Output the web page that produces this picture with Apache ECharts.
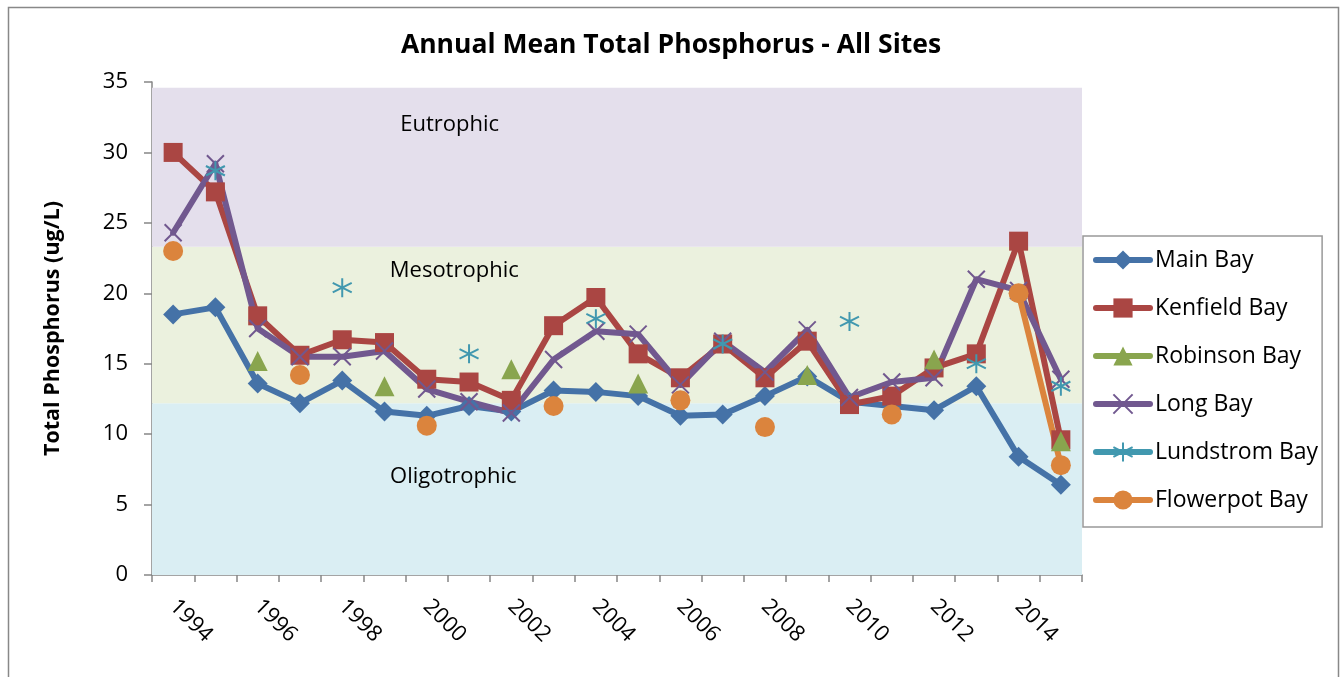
<!DOCTYPE html>
<html>
<head>
<meta charset="utf-8">
<script src="https://cdn.jsdelivr.net/npm/echarts@6/dist/echarts.min.js"></script>
<style>
  html, body { margin: 0; padding: 0; background: #fff; }
  #chart { width: 1342px; height: 677px; }
</style>
</head>
<body>
<div id="chart"></div>
<script>
const years = ['1994','1995','1996','1997','1998','1999','2000','2001','2002','2003','2004',
               '2005','2006','2007','2008','2009','2010','2011','2012','2013','2014','2015'];

const mainBay   = [18.5, 19.0, 13.6, 12.2, 13.8, 11.6, 11.3, 12.0, 11.6, 13.1, 13.0,
                   12.7, 11.3, 11.4, 12.7, 14.1, 12.3, 12.0, 11.7, 13.4, 8.4, 6.4];
const kenfield  = [30.0, 27.2, 18.4, 15.6, 16.7, 16.5, 13.9, 13.7, 12.4, 17.7, 19.7,
                   15.7, 14.0, 16.4, 14.0, 16.6, 12.1, 12.7, 14.7, 15.7, 23.7, 9.6];
const robinson  = [null, null, 15.2, null, null, 13.4, null, null, 14.6, null, null,
                   13.6, null, null, null, 14.2, null, null, 15.3, null, null, 9.5];
const longBay   = [24.3, 29.2, 17.5, 15.5, 15.5, 15.9, 13.2, 12.3, 11.5, 15.3, 17.3,
                   17.1, 13.5, 16.6, 14.4, 17.4, 12.6, 13.7, 14.0, 21.0, 20.2, 13.9];
const lundstrom = [null, 28.7, null, null, 20.4, null, null, 15.7, null, null, 18.2,
                   null, null, 16.4, null, null, 18.0, null, null, 15.0, null, 13.4];
const flowerpot = [23.0, null, null, 14.2, null, null, 10.6, null, null, 12.0, null,
                   null, 12.4, null, 10.5, null, null, 11.4, null, null, 20.0, 7.8];

const seriesNames = ['Main Bay', 'Kenfield Bay', 'Robinson Bay', 'Long Bay', 'Lundstrom Bay', 'Flowerpot Bay'];

const bandNames  = ['Oligotrophic', 'Mesotrophic', 'Eutrophic'];
const bandRanges = [[0, 12.2], [12.2, 23.3], [23.3, 34.6]];

const yTicks = { min: 0, max: 35, interval: 5 };

const FONT = 'Open Sans';
const bandColors = ['#DAEEF3', '#EBF1DE', '#E4DFEC'];
const bandLabelPos = [['32.4%', '43%'], ['32.5%', '15%'], ['32%', '23%']];

const crossPath = 'path://M0,0L10,10M10,0L0,10';
const starPath = 'path://M5,0L5,10M0.7,2.5L9.3,7.5M0.7,7.5L9.3,2.5';

function lineSeries(name, data, color, symbol, size, extra) {
  return Object.assign({
    name: name,
    type: 'line',
    data: data,
    symbol: symbol,
    symbolSize: size,
    showAllSymbol: true,
    connectNulls: false,
    lineStyle: { color: color, width: 6, cap: 'round', join: 'round' },
    itemStyle: { color: color, borderColor: color, borderWidth: 0, opacity: 1 },
    emphasis: { disabled: true },
    animation: false
  }, extra || {});
}

const markArea = {
  silent: true,
  data: bandRanges.map((r, i) => [
    { yAxis: r[0], itemStyle: { color: bandColors[i], opacity: 1 },
      label: { show: true, formatter: bandNames[i], position: bandLabelPos[i],
               align: 'center', verticalAlign: 'middle',
               color: '#000', fontFamily: FONT, fontSize: 22 } },
    { yAxis: r[1] }
  ])
};

const chart = echarts.init(document.getElementById('chart'), null, { renderer: 'canvas' });
chart.setOption({
  animation: false,
  backgroundColor: '#fff',
  graphic: [{
    type: 'rect',
    shape: { x: 8.5, y: 7.5, width: 1330, height: 700 },
    style: { fill: 'none', stroke: '#888', lineWidth: 1.5 },
    silent: true, z: -10
  }],
  title: {
    text: 'Annual Mean Total Phosphorus - All Sites',
    left: 'center', top: 32, padding: 0,
    textStyle: { fontFamily: FONT, fontSize: 26.5, fontWeight: 'bold', color: '#000' }
  },
  legend: {
    data: seriesNames,
    orient: 'vertical',
    left: 1083, top: 236,
    padding: [8, 4, 11, 10],
    itemWidth: 54, itemHeight: 24, itemGap: 16,
    borderColor: '#999', borderWidth: 1.5,
    backgroundColor: '#fff',
    lineStyle: { width: 6, cap: 'round' },
    textStyle: { fontFamily: FONT, fontSize: 23, color: '#000', lineHeight: 32 },
    selectedMode: false
  },
  grid: { left: 152, right: 260, top: 82, bottom: 102 },
  xAxis: {
    type: 'category',
    data: years,
    boundaryGap: true,
    axisLine: { lineStyle: { color: '#868686', width: 1.5 } },
    axisTick: { show: true, interval: 0, length: 7, lineStyle: { color: '#868686', width: 1.5 } },
    axisLabel: { interval: 1, rotate: -45, margin: 28, color: '#000', fontFamily: FONT, fontSize: 22 },
    splitLine: { show: false }
  },
  yAxis: {
    type: 'value',
    min: yTicks.min, max: yTicks.max, interval: yTicks.interval,
    name: 'Total Phosphorus (ug/L)',
    nameLocation: 'middle', nameRotate: 90, nameGap: 88,
    nameTextStyle: { fontFamily: FONT, fontSize: 21.5, fontWeight: 'bold', color: '#000' },
    axisLine: { show: true, lineStyle: { color: '#868686', width: 1.5 } },
    axisTick: { show: true, length: 8, lineStyle: { color: '#868686', width: 1.5 } },
    axisLabel: { margin: 24, color: '#000', fontFamily: FONT, fontSize: 22 },
    splitLine: { show: false }
  },
  series: [
    lineSeries(seriesNames[0], mainBay, '#4572A7', 'diamond', 20, { markArea: markArea }),
    lineSeries(seriesNames[1], kenfield, '#AA4643', 'rect', 19),
    lineSeries(seriesNames[2], robinson, '#89A54E', 'triangle', 20),
    lineSeries(seriesNames[3], longBay, '#71588F', crossPath, 17,
      { itemStyle: { color: '#71588F', borderColor: '#71588F', borderWidth: 2 } }),
    lineSeries(seriesNames[4], lundstrom, '#4198AF', starPath, 19,
      { itemStyle: { color: '#4198AF', borderColor: '#4198AF', borderWidth: 2 } }),
    lineSeries(seriesNames[5], flowerpot, '#DB843D', 'circle', 20)
  ]
});
</script>
</body>
</html>
